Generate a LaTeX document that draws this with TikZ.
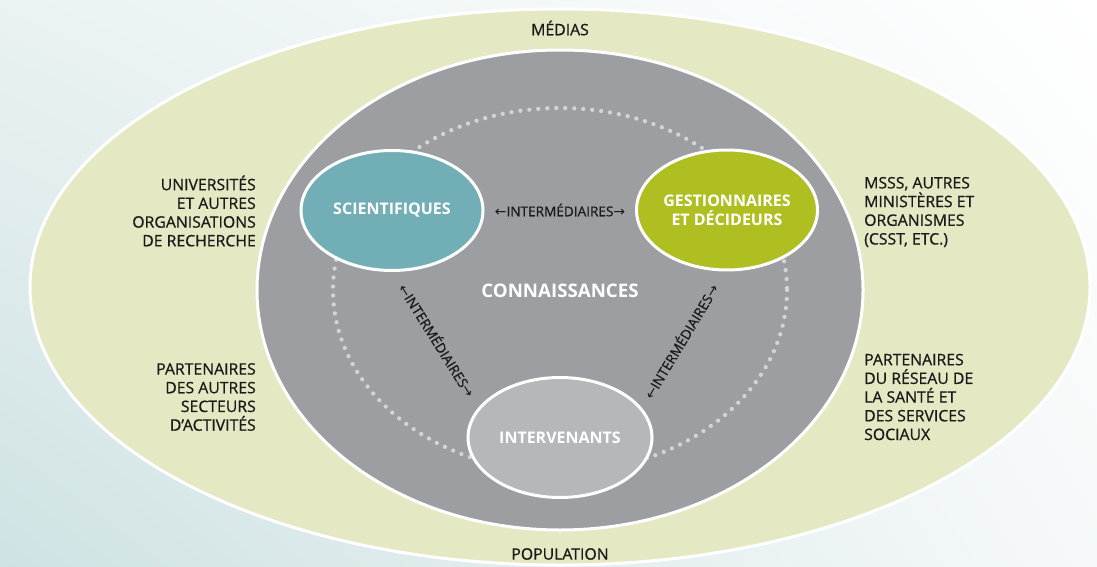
\documentclass[tikz,border=0pt]{standalone}
\usepackage{fontspec}
\setmainfont{Open Sans}
\newfontfamily\labfont{Open Sans}[FakeBold=0.7]
\newfontfamily\arrowfont{DejaVu Sans}
\usetikzlibrary{shapes.geometric,shadings}
\definecolor{bgUL}{HTML}{EAF2F3}
\definecolor{bgLL}{HTML}{CFE2E3}
\definecolor{bgLR}{HTML}{F6F9F9}
\definecolor{outergreen}{HTML}{E4E8C3}
\definecolor{greyzone}{HTML}{9D9EA2}
\definecolor{sciteal}{HTML}{72AEB6}
\definecolor{gestolive}{HTML}{AFBF22}
\definecolor{intgrey}{HTML}{B6B7B9}
\definecolor{dotgrey}{HTML}{D3D4D6}
\definecolor{darktext}{HTML}{1A1A1A}
\newcommand{\interlab}{{\arrowfont\fontsize{14}{15}\selectfont ←}INTERMÉDIAIRES{\arrowfont\fontsize{14}{15}\selectfont →}}
\tikzset{
  zone/.style={ellipse, draw=white, line width=3pt, inner sep=0pt},
  actor/.style={ellipse, draw=white, line width=3pt, inner sep=0pt, align=center,
     text=white, font=\fontsize{16}{19}\selectfont\bfseries},
  outerlab/.style={text=darktext, font=\labfont\fontsize{15.8}{18.7}\selectfont, inner sep=0pt},
  midlab/.style={text=darktext, font=\labfont\fontsize{13.6}{15}\selectfont, inner sep=0pt},
}
\begin{document}
\begin{tikzpicture}[x=1pt,y=-1pt]
\useasboundingbox (0,0) rectangle (1097,567);
\shade[upper left=bgUL, upper right=white, lower left=bgLL, lower right=bgLR] (0,0) rectangle (1097,567);
% outer zone
\node[zone, fill=outergreen, minimum width=1060, minimum height=556] (outer) at (560,287) {};
% knowledge zone
\node[zone, fill=greyzone, minimum width=606, minimum height=480] (inner) at (560,290) {};
% dotted ring
\draw[dotgrey, line width=4.3pt, line cap=round, dash pattern=on 0pt off 9pt] (560,290) ellipse [x radius=227, y radius=182];
% actors
\node[actor, fill=sciteal, minimum width=182, minimum height=120] (sci) at (392,210.5) {SCIENTIFIQUES};
\node[actor, fill=gestolive, minimum width=181, minimum height=120] (gest) at (727,210) {GESTIONNAIRES\\ET DÉCIDEURS};
\node[actor, fill=intgrey, minimum width=184, minimum height=120] (int) at (560,437.5) {INTERVENANTS};
% central label
\node[text=white, font=\fontsize{18.7}{21}\selectfont\bfseries, inner sep=0pt] (conn) at (560,291) {CONNAISSANCES};
% intermediaries
\node[midlab] (i1) at (560,210) {\interlab};
\node[midlab, rotate=-58] (i2) at (437.5,340) {\interlab};
\node[midlab, rotate=59] (i3) at (680.5,341) {\interlab};
% outer labels
\node[outerlab] (medias) at (560,28) {MÉDIAS};
\node[outerlab] (popu) at (560,554) {POPULATION};
\node[outerlab, anchor=east, align=right] (univ) at (256,211) {UNIVERSITÉS\\ET AUTRES\\ORGANISATIONS\\DE RECHERCHE};
\node[outerlab, anchor=east, align=right] (part1) at (256,397) {PARTENAIRES\\DES AUTRES\\SECTEURS\\D’ACTIVITÉS};
\node[outerlab, anchor=west, align=left] (msss) at (864,212) {MSSS, AUTRES\\MINISTÈRES ET\\ORGANISMES\\(CSST, ETC.)};
\node[outerlab, anchor=west, align=left] (part2) at (864,397) {PARTENAIRES\\DU RÉSEAU DE\\LA SANTÉ ET\\DES SERVICES\\SOCIAUX};
\end{tikzpicture}
\end{document}
